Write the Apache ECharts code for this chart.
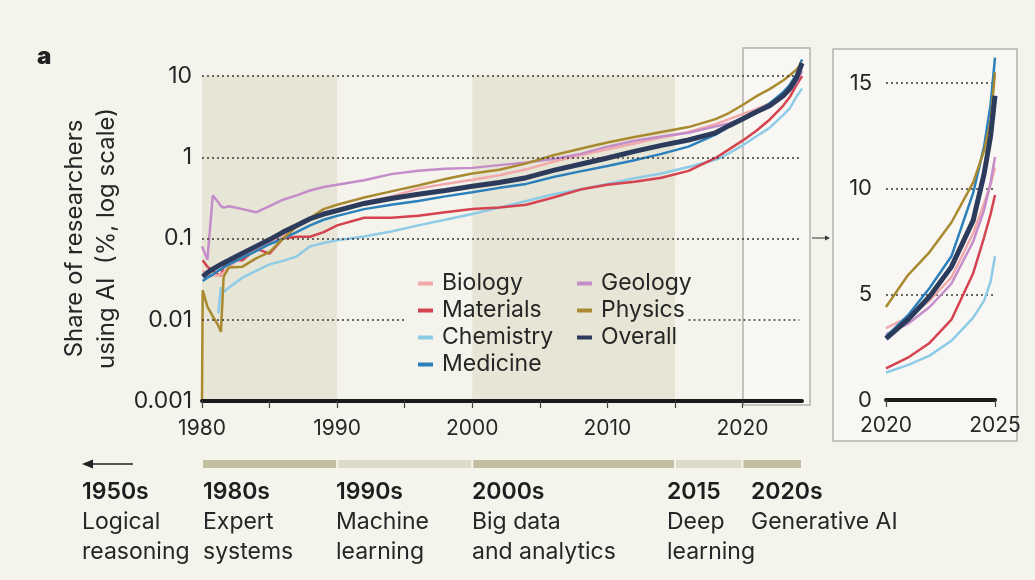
<!DOCTYPE html>
<html>
<head>
<meta charset="utf-8">
<script src="https://cdn.jsdelivr.net/npm/echarts@6/dist/echarts.min.js"></script>
<style>
  html, body { margin: 0; padding: 0; background: #f4f3ec; }
  #chart { width: 1035px; height: 580px; }
</style>
</head>
<body>
<div id="chart"></div>
<script>
// sample dates (decimal years) for the main log panel
const years = [1980, 1980.05, 1980.4, 1980.8, 1981.2, 1981.4, 1981.6, 1982, 1983, 1984, 1985, 1986, 1987, 1988, 1989, 1990,
  1992, 1994, 1996, 1998, 2000, 2002, 2004, 2006, 2008, 2010, 2012, 2014, 2016, 2018, 2019, 2020,
  2021, 2022, 2023, 2023.5, 2024, 2024.4];

// share of researchers using AI, %
const biology   = [null, 0.04, 0.036, 0.035, 0.035, 0.036, 0.038, 0.045, 0.06, 0.075, 0.09, 0.11, 0.14, 0.17, 0.2, 0.23,
  0.28, 0.33, 0.41, 0.47, 0.53, 0.6, 0.71, 0.88, 1.06, 1.25, 1.48, 1.75, 2.05, 2.55, 2.95, 3.4,
  3.9, 4.6, 5.9, 7.0, 9.0, 11.5];
const materials = [null, 0.054, 0.045, 0.04, 0.036, 0.035, 0.045, 0.054, 0.054, 0.075, 0.065, 0.1, 0.105, 0.105, 0.12, 0.145,
  0.18, 0.18, 0.19, 0.21, 0.23, 0.24, 0.26, 0.32, 0.4, 0.46, 0.5, 0.56, 0.68, 0.98, 1.25, 1.6,
  2.1, 2.9, 4.3, 5.5, 7.8, 10.0];
const chemistry = [null, null, null, null, 0.012, 0.025, 0.022, 0.025, 0.033, 0.04, 0.048, 0.053, 0.06, 0.08, 0.088, 0.095,
  0.106, 0.122, 0.145, 0.17, 0.2, 0.24, 0.29, 0.35, 0.4, 0.47, 0.55, 0.63, 0.76, 0.93, 1.12, 1.4,
  1.8, 2.3, 3.3, 4.0, 5.6, 7.0];
const medicine  = [null, 0.03, 0.033, 0.036, 0.04, 0.042, 0.044, 0.048, 0.058, 0.07, 0.085, 0.1, 0.12, 0.145, 0.17, 0.19,
  0.23, 0.26, 0.29, 0.33, 0.37, 0.42, 0.47, 0.57, 0.67, 0.78, 0.92, 1.1, 1.35, 1.9, 2.4, 2.95,
  3.6, 4.6, 6.3, 7.8, 10.5, 16.0];
const geology   = [0.08, 0.08, 0.055, 0.34, 0.28, 0.25, 0.24, 0.25, 0.23, 0.21, 0.25, 0.3, 0.34, 0.39, 0.43, 0.46,
  0.52, 0.62, 0.68, 0.72, 0.74, 0.8, 0.86, 0.95, 1.1, 1.35, 1.6, 1.8, 2.0, 2.4, 2.6, 3.0,
  3.5, 4.2, 5.4, 6.5, 8.5, 11.5];
const physics   = [0.001, 0.023, 0.0145, 0.011, 0.0085, 0.0071, 0.034, 0.044, 0.045, 0.057, 0.068, 0.1, 0.14, 0.18, 0.23, 0.26,
  0.32, 0.38, 0.45, 0.54, 0.63, 0.7, 0.84, 1.06, 1.27, 1.52, 1.78, 2.05, 2.35, 2.95, 3.5, 4.4,
  5.6, 6.9, 8.8, 10.2, 12.0, 14.5];
const overall   = [null, 0.034, 0.038, 0.042, 0.046, 0.048, 0.05, 0.054, 0.066, 0.08, 0.097, 0.12, 0.145, 0.175, 0.2, 0.22,
  0.27, 0.31, 0.35, 0.39, 0.44, 0.49, 0.56, 0.69, 0.82, 0.98, 1.18, 1.4, 1.63, 2.0, 2.45, 2.95,
  3.6, 4.3, 5.7, 7.0, 9.5, 14.4];

// zoomed panel, linear scale
const insetYears     = [2020, 2021, 2022, 2023, 2024, 2024.5, 2024.8, 2025];
const insetBiology   = [3.4, 3.9, 4.7, 5.8, 7.9, 9.3, 10.2, 11.0];
const insetMaterials = [1.5, 2.0, 2.7, 3.8, 6.0, 7.7, 8.8, 9.7];
const insetChemistry = [1.3, 1.65, 2.1, 2.8, 3.9, 4.7, 5.6, 6.8];
const insetMedicine  = [3.0, 4.0, 5.3, 6.8, 9.8, 12.0, 14.0, 16.2];
const insetGeology   = [3.1, 3.6, 4.4, 5.5, 7.5, 9.0, 10.3, 11.5];
const insetPhysics   = [4.4, 5.9, 7.0, 8.4, 10.3, 11.8, 13.2, 15.5];
const insetOverall   = [2.9, 3.8, 4.9, 6.3, 8.5, 10.7, 12.5, 14.4];

// AI eras along the bottom strip
const eraStart = [1980, 1990, 2000, 2015, 2020];
const eraEnd   = [1990, 2000, 2015, 2020, 2024.4];
const eraDark  = [1, 0, 1, 0, 1];
const eraYears = ['1950s', '1980s', '1990s', '2000s', '2015', '2020s'];
const eraNames = ['Logical\nreasoning', 'Expert\nsystems', 'Machine\nlearning', 'Big data\nand analytics', 'Deep\nlearning', 'Generative AI'];
const eraLabelX = [82, 203, 336, 472, 667, 751];

const FONT = 'Inter';
const TXT = '#262626';
const DOTS = { type: [2, 3], color: '#3a3a3a', width: 1.6 };

const fields = [
  { name: 'Chemistry', main: chemistry, inset: insetChemistry, color: '#8ecbe6', width: 2.5 },
  { name: 'Materials', main: materials, inset: insetMaterials, color: '#d4434f', width: 2.5 },
  { name: 'Biology', main: biology, inset: insetBiology, color: '#f1a9ab', width: 2.5 },
  { name: 'Geology', main: geology, inset: insetGeology, color: '#c48cc9', width: 2.5 },
  { name: 'Medicine', main: medicine, inset: insetMedicine, color: '#2b80bb', width: 2.5 },
  { name: 'Physics', main: physics, inset: insetPhysics, color: '#a98a30', width: 2.5 },
  { name: 'Overall', main: overall, inset: insetOverall, color: '#2c3a5b', width: 5 }
];

const pair = (xs, ys) => xs.map((x, i) => [x, ys[i]]);

let series = [];
// background bands and dotted reference lines
series.push({
  type: 'line', xAxisIndex: 0, yAxisIndex: 0, data: [], silent: true,
  markArea: {
    silent: true,
    itemStyle: { color: '#e7e5d6' },
    data: [[{ xAxis: 1980 }, { xAxis: 1990 }], [{ xAxis: 2000 }, { xAxis: 2015 }]]
  },
  markLine: {
    silent: true, symbol: 'none', label: { show: false },
    lineStyle: DOTS,
    data: [
      [{ coord: [1980, 10] }, { coord: [2024.2, 10] }],
      [{ coord: [1980, 1] }, { coord: [2024.2, 1] }],
      [{ coord: [1980, 0.1] }, { coord: [2024.2, 0.1] }],
      [{ coord: [1980, 0.01] }, { coord: [1995, 0.01] }],
      [{ coord: [2016, 0.01] }, { coord: [2024.2, 0.01] }]
    ]
  }
});
fields.forEach(f => {
  series.push({
    name: f.name, type: 'line', xAxisIndex: 0, yAxisIndex: 0,
    data: pair(years, f.main), showSymbol: false, symbol: 'none', clip: false,
    color: f.color, lineStyle: { width: f.width, color: f.color }
  });
});
fields.forEach(f => {
  series.push({
    name: f.name, type: 'line', xAxisIndex: 1, yAxisIndex: 1,
    data: pair(insetYears, f.inset), showSymbol: false, symbol: 'none', clip: false,
    color: f.color, lineStyle: { width: f.width, color: f.color }
  });
});
series.push({
  type: 'custom', xAxisIndex: 2, yAxisIndex: 2, silent: true,
  data: eraStart.map((s, i) => [s, eraEnd[i], eraDark[i]]),
  encode: { x: [0, 1] },
  renderItem: function (params, api) {
    const a = api.coord([api.value(0), 1]);
    const b = api.coord([api.value(1), 0]);
    return {
      type: 'rect',
      shape: { x: a[0] + 1, y: a[1], width: b[0] - a[0] - 2, height: b[1] - a[1] },
      style: { fill: api.value(2) ? '#c2bfa0' : '#dedcc8' }
    };
  }
});

const eraTexts = eraYears.map((y, i) => ({
  type: 'text', left: eraLabelX[i], top: 481, z: 10,
  style: {
    text: '{b|' + y + '}\n' + eraNames[i].split('\n').map(s => '{n|' + s + '}').join('\n'),
    rich: {
      b: { fontFamily: FONT, fontSize: 23, fontWeight: 600, lineHeight: 30, fill: '#1e1e1e' },
      n: { fontFamily: FONT, fontSize: 23, lineHeight: 29.5, fill: TXT }
    }
  }
}));

const legendText = { fontFamily: FONT, fontSize: 23, color: TXT, lineHeight: 22, padding: [0, 0, 0, 4] };

const option = {
  backgroundColor: '#f4f3ec',
  animation: false,
  textStyle: { fontFamily: FONT },
  legend: [
    {
      left: 413, top: 267, orient: 'vertical', itemGap: 4, itemWidth: 15, itemHeight: 4, icon: 'rect',
      data: ['Biology', 'Materials', 'Chemistry', 'Medicine'], textStyle: legendText
    },
    {
      left: 572, top: 267, orient: 'vertical', itemGap: 4, itemWidth: 15, itemHeight: 4, icon: 'rect',
      data: ['Geology', 'Physics', 'Overall'], textStyle: legendText
    }
  ],
  grid: [
    { left: 202, right: 233, top: 76, bottom: 179 },
    { left: 886, right: 40, top: 83, bottom: 180 },
    { left: 202, right: 233, top: 460, height: 8 }
  ],
  xAxis: [
    {
      gridIndex: 0, type: 'value', min: 1980, max: 2024.4, interval: 5, z: 5,
      axisLine: { lineStyle: { color: '#1a1a1a', width: 4 } },
      axisTick: { length: 7, lineStyle: { color: '#444', width: 1.2 } },
      axisLabel: {
        fontFamily: FONT, fontSize: 21, color: TXT, margin: 17, showMaxLabel: false,
        formatter: v => (v % 10 === 0 ? String(v) : '')
      },
      splitLine: { show: false }
    },
    {
      gridIndex: 1, type: 'value', min: 2020, max: 2025, interval: 5, z: 5,
      axisLine: { lineStyle: { color: '#1a1a1a', width: 4 } },
      axisTick: { length: 7, lineStyle: { color: '#444', width: 1.2 } },
      axisLabel: { fontFamily: FONT, fontSize: 21, color: TXT, margin: 15, formatter: v => String(v) },
      splitLine: { show: false }
    },
    { gridIndex: 2, type: 'value', min: 1980, max: 2024.4, show: false }
  ],
  yAxis: [
    {
      gridIndex: 0, type: 'log', logBase: 10, min: 0.001, max: 10,
      name: 'Share of researchers\nusing AI  (%, log scale)',
      nameLocation: 'middle', nameGap: 72, nameRotate: 90,
      nameTextStyle: { fontFamily: FONT, fontSize: 24, lineHeight: 32, color: TXT },
      axisLine: { show: false }, axisTick: { show: false },
      axisLabel: { fontFamily: FONT, fontSize: 23, color: TXT, margin: 10 },
      splitLine: { show: false }
    },
    {
      gridIndex: 1, type: 'value', min: 0, max: 15, interval: 5,
      axisLine: { show: false }, axisTick: { show: false },
      axisLabel: { fontFamily: FONT, fontSize: 22, color: TXT, margin: 14 },
      splitLine: { lineStyle: DOTS }
    },
    { gridIndex: 2, type: 'value', min: 0, max: 1, show: false }
  ],
  graphic: [
    { type: 'rect', z: -1, shape: { x: 743, y: 48, width: 67, height: 357 },
      style: { fill: '#f8f7f3', stroke: '#b3b3b0', lineWidth: 1.5 } },
    { type: 'rect', z: -1, shape: { x: 833, y: 49, width: 184, height: 392 },
      style: { fill: '#f8f7f3', stroke: '#b3b3b0', lineWidth: 1.5 } },
    { type: 'text', left: 37, top: 45, z: 10,
      style: { text: 'a', fontFamily: FONT, fontSize: 24, fontWeight: 900, fill: '#222' } },
    // pointer from main panel to the zoomed panel
    { type: 'line', z: 10, shape: { x1: 812, y1: 238, x2: 826, y2: 238 }, style: { stroke: '#333', lineWidth: 1 } },
    { type: 'polygon', z: 10, shape: { points: [[830, 238], [825, 235.5], [825, 240.5]] }, style: { fill: '#333' } },
    // leftward arrow toward the 1950s
    { type: 'line', z: 10, shape: { x1: 90, y1: 464, x2: 133, y2: 464 }, style: { stroke: '#222', lineWidth: 1.5 } },
    { type: 'polygon', z: 10, shape: { points: [[82, 464], [93, 459.5], [93, 468.5]] }, style: { fill: '#222' } }
  ].concat(eraTexts),
  series: series
};

const myChart = echarts.init(document.getElementById('chart'));
myChart.setOption(option);
</script>
</body>
</html>
